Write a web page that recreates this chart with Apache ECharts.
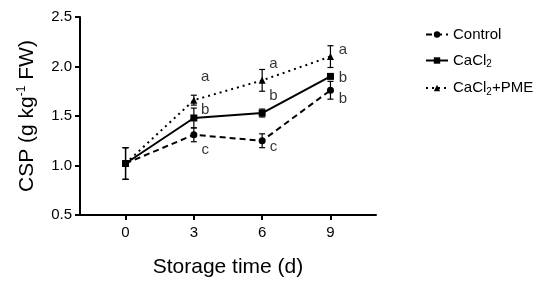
<!DOCTYPE html>
<html>
<head>
<meta charset="utf-8">
<script src="https://cdn.jsdelivr.net/npm/echarts@6/dist/echarts.min.js"></script>
<style>
  html, body { margin: 0; padding: 0; background: #fff; }
  #main { width: 550px; height: 285px; }
</style>
</head>
<body>
<div id="main"></div>
<script>
'use strict';

/* ===== data ===== */
var days = [0, 3, 6, 9];
var xTicks = [0, 3, 6, 9];

var controlMean = [1.02, 1.31, 1.25, 1.76];
var controlErr  = [0.16, 0.07, 0.07, 0.09];

var cacl2Mean = [1.02, 1.48, 1.53, 1.90];
var cacl2Err  = [0.16, 0.10, 0.04, 0.02];

var pmeMean = [1.02, 1.66, 1.86, 2.10];
var pmeErr  = [0.16, 0.05, 0.11, 0.11];

// significance letters: [day, value, letter]
var letters = [
  [3.5, 1.90, 'a'], [3.5, 1.56, 'b'], [3.5, 1.16, 'c'],
  [6.5, 2.03, 'a'], [6.5, 1.70, 'b'], [6.5, 1.19, 'c'],
  [9.55, 2.17, 'a'], [9.55, 1.89, 'b'], [9.55, 1.67, 'b']
];

var font = 'Arial, "Liberation Sans", Helvetica, sans-serif';

function pairs(y) {
  return days.map(function (d, i) { return [d, y[i]]; });
}

function errData(y, e) {
  return days.map(function (d, i) { return [d, y[i] - e[i], y[i] + e[i]]; });
}

// I-shaped error bar
function errorBar(params, api) {
  var lo = api.coord([api.value(0), api.value(1)]);
  var hi = api.coord([api.value(0), api.value(2)]);
  var w = 3;
  var st = { stroke: '#000', lineWidth: 1.2, fill: 'none' };
  return {
    type: 'group',
    children: [
      { type: 'line', shape: { x1: lo[0], y1: lo[1], x2: hi[0], y2: hi[1] }, style: st },
      { type: 'line', shape: { x1: lo[0] - w, y1: lo[1], x2: lo[0] + w, y2: lo[1] }, style: st },
      { type: 'line', shape: { x1: hi[0] - w, y1: hi[1], x2: hi[0] + w, y2: hi[1] }, style: st }
    ]
  };
}

var myChart = echarts.init(document.getElementById('main'), null, { renderer: 'canvas' });

var subRich = {
  sub: { fontSize: 10, fontFamily: font, color: '#000', verticalAlign: 'bottom', padding: [8, 0, 0, 0] }
};

var option = {
  animation: false,
  textStyle: { fontFamily: font, color: '#000' },
  grid: { left: 80, right: 174, top: 17, bottom: 70, containLabel: false },
  legend: {
    orient: 'vertical',
    left: 420,
    top: 22,
    itemWidth: 22,
    itemHeight: 8,
    itemGap: 11,
    textStyle: {
      fontSize: 15, color: '#000', fontFamily: font,
      rich: subRich
    },
    formatter: function (name) {
      return name.replace('CaCl2', 'CaCl{sub|2}');
    },
    data: ['Control', 'CaCl2', 'CaCl2+PME']
  },
  xAxis: {
    type: 'value',
    min: -2,
    max: 11,
    name: 'Storage time (d)',
    nameLocation: 'middle',
    nameGap: 42,
    nameTextStyle: { fontSize: 21, color: '#000', fontFamily: font },
    splitLine: { show: false },
    axisLine: { onZero: false, lineStyle: { color: '#000', width: 2 } },
    axisTick: { show: true, length: 5, customValues: xTicks, lineStyle: { color: '#000', width: 2 } },
    axisLabel: { customValues: xTicks, fontSize: 15, color: '#000', margin: 10, fontFamily: font }
  },
  yAxis: {
    type: 'value',
    min: 0.5,
    max: 2.5,
    interval: 0.5,
    name: 'CSP (g kg{sup|-1} FW)',
    nameLocation: 'middle',
    nameGap: 42,
    nameTextStyle: {
      fontSize: 21, color: '#000', fontFamily: font,
      rich: {
        sup: { fontSize: 12, fontFamily: font, color: '#000', verticalAlign: 'top', padding: [0, 0, 10, 0] }
      }
    },
    splitLine: { show: false },
    axisLine: { show: true, onZero: false, lineStyle: { color: '#000', width: 2 } },
    axisTick: { show: true, length: 5, lineStyle: { color: '#000', width: 2 } },
    axisLabel: {
      fontSize: 15, color: '#000', margin: 8, fontFamily: font,
      formatter: function (v) { return v.toFixed(1); }
    }
  },
  series: [
    {
      name: 'Control',
      type: 'line',
      data: pairs(controlMean),
      symbol: 'circle',
      symbolSize: 7,
      itemStyle: { color: '#000' },
      lineStyle: { color: '#000', width: 2, type: [6, 4] },
      z: 3
    },
    {
      name: 'CaCl2',
      type: 'line',
      data: pairs(cacl2Mean),
      symbol: 'rect',
      symbolSize: 7,
      itemStyle: { color: '#000' },
      lineStyle: { color: '#000', width: 2, type: 'solid' },
      z: 3
    },
    {
      name: 'CaCl2+PME',
      type: 'line',
      data: pairs(pmeMean),
      symbol: 'triangle',
      symbolSize: 7,
      itemStyle: { color: '#000' },
      lineStyle: { color: '#000', width: 2, type: [2, 4] },
      z: 3
    },
    { type: 'custom', renderItem: errorBar, data: errData(controlMean, controlErr), z: 2, silent: true },
    { type: 'custom', renderItem: errorBar, data: errData(cacl2Mean, cacl2Err), z: 2, silent: true },
    { type: 'custom', renderItem: errorBar, data: errData(pmeMean, pmeErr), z: 2, silent: true },
    {
      type: 'scatter',
      symbolSize: 0,
      silent: true,
      data: letters.map(function (l) { return { value: [l[0], l[1]], name: l[2] }; }),
      label: {
        show: true,
        position: 'inside',
        formatter: function (p) { return p.name; },
        fontSize: 15,
        color: '#000',
        fontFamily: font
      }
    }
  ]
};

myChart.setOption(option);
</script>
</body>
</html>
